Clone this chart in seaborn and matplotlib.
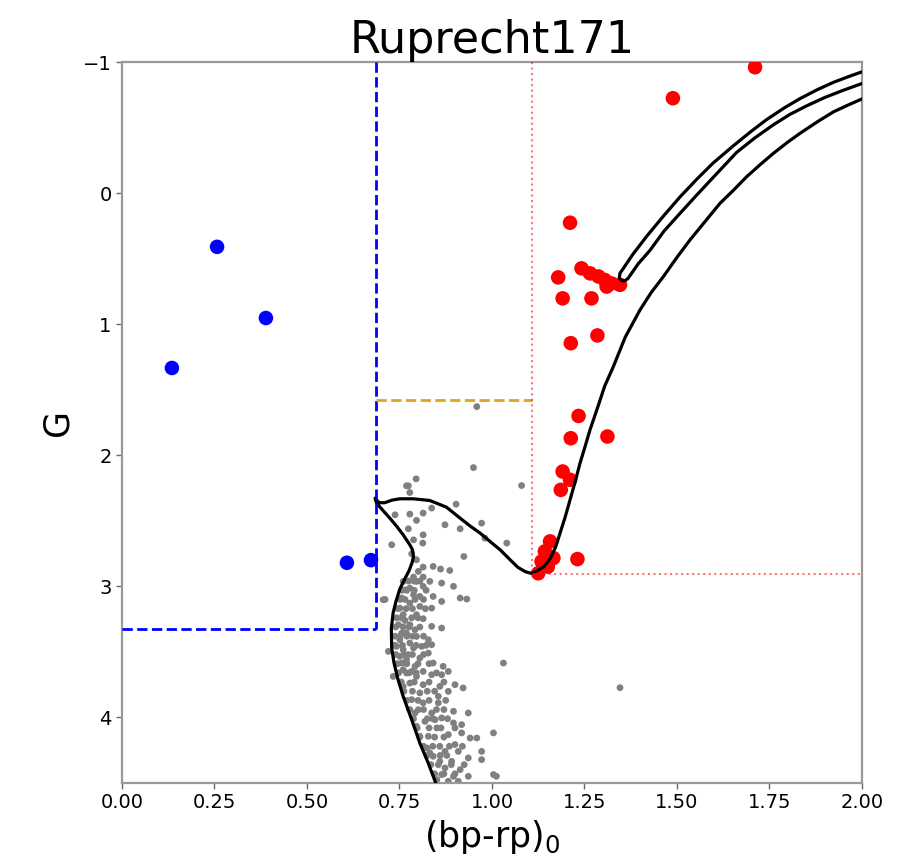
import numpy as np
import pandas as pd
import matplotlib
matplotlib.use("Agg")
import matplotlib.pyplot as plt
import seaborn as sns

sns.set_theme(style="ticks")
plt.rcParams["font.family"] = ["DejaVu Sans"]
plt.rcParams.update({"text.color": "black", "axes.labelcolor": "black",
                     "xtick.color": "black", "ytick.color": "black"})

TITLE = "Ruprecht171"

# ---- field / cluster members (grey) : (bp-rp)0, G ----
field_c = [
    0.959, 0.950, 0.795, 0.774, 1.080, 0.711, 0.914, 0.932,
    0.769, 0.778, 0.738, 0.778, 0.814, 0.796, 0.837, 0.903, 0.873, 0.774, 0.914,
    0.972, 0.814, 0.788, 0.813, 0.729, 0.981, 1.040, 0.924, 0.783, 0.796, 0.814,
    0.841, 0.861, 0.886, 0.801, 0.788, 0.814,
    0.706, 0.896, 0.864, 0.841, 0.864, 0.837, 0.805, 0.778, 0.814, 0.832,
    0.756, 0.778, 0.796, 0.760, 0.747, 0.778, 0.837, 0.864, 0.769, 0.796, 0.828,
    0.751, 0.720, 0.760, 0.788, 0.837, 0.828, 0.805, 0.769, 0.751, 0.841, 0.792,
    0.760, 0.868, 0.814, 1.031, 0.788, 0.760, 0.796, 0.765, 0.805, 0.751, 0.765,
    0.814, 0.792, 0.756, 0.778, 0.742, 0.810, 0.774, 0.756, 0.783,
    0.733, 0.769, 0.796, 0.837, 0.864, 0.882, 0.778, 0.814, 0.859, 0.900, 0.922,
    0.882, 0.805, 0.855, 0.783, 0.814, 0.855, 0.896, 0.936, 0.837, 0.801, 0.864,
    0.819, 0.896, 0.918, 0.796, 0.851, 0.882, 0.918, 0.941, 0.959, 1.004, 0.828,
    0.859, 0.900, 0.824, 0.873, 0.909, 0.972, 0.936, 0.972, 0.859, 0.891, 0.841,
    0.873, 0.914, 0.864, 0.896, 0.936, 1.004, 1.012, 0.851, 0.882, 0.909, 0.760,
    0.792, 0.805, 0.846, 0.832, 1.346,
    0.775, 0.790, 0.805,
    0.757, 0.770, 0.790, 0.822,
    0.752, 0.765, 0.792, 0.815,
    0.745, 0.768, 0.785, 0.820,
    0.742, 0.755, 0.783, 0.800,
    0.740, 0.760, 0.776, 0.805,
    0.738, 0.752, 0.770, 0.785, 0.815,
    0.738, 0.758, 0.795, 0.822,
    0.740, 0.762, 0.785, 0.815,
    0.745, 0.770, 0.800, 0.830,
    0.748, 0.776, 0.795, 0.850,
    0.755, 0.790, 0.830, 0.870,
    0.762, 0.785, 0.825, 0.845,
    0.770, 0.800, 0.830, 0.875,
    0.778, 0.815, 0.850, 0.870,
    0.788, 0.825, 0.840, 0.880,
    0.798, 0.830, 0.862, 0.900,
    0.805, 0.845, 0.870,
    0.815, 0.840, 0.885, 0.920,
    0.825, 0.860, 0.878,
    0.835, 0.855, 0.890, 0.925,
    0.845, 0.870, 0.900,
]
field_g = [
    1.629, 2.094, 2.180, 2.233, 2.231, 3.100, 3.089, 3.097,
    2.233, 2.284, 2.454, 2.449, 2.441, 2.497, 2.403, 2.373, 2.530, 2.561, 2.561,
    2.518, 2.607, 2.645, 2.670, 2.683, 2.632, 2.670, 2.772, 2.752, 2.797, 2.853,
    2.848, 2.868, 2.879, 2.886, 2.929, 2.929,
    3.102, 3.000, 2.975, 3.077, 3.115, 3.166, 3.153, 3.013, 3.000, 2.962,
    3.089, 3.128, 3.216, 3.216, 3.293, 3.293, 3.305, 3.318, 3.356, 3.382, 3.407,
    3.407, 3.496, 3.483, 3.470, 3.445, 3.509, 3.547, 3.559, 3.534, 3.585, 3.610,
    3.636, 3.610, 3.649, 3.585, 3.064, 2.962, 2.962, 3.026, 3.077, 3.166, 3.260,
    3.247, 3.331, 3.357, 3.432, 3.458, 3.458, 3.521, 3.585, 3.649,
    3.687, 3.661, 3.687, 3.674, 3.674, 3.649, 3.738, 3.750, 3.763, 3.750, 3.775,
    3.801, 3.813, 3.839, 3.864, 3.889, 3.889, 3.953, 3.966, 3.966, 3.941, 4.004,
    4.030, 4.042, 4.055, 4.068, 4.080, 4.131, 4.118, 4.157, 4.157, 4.118, 4.144,
    4.220, 4.207, 4.233, 4.259, 4.259, 4.259, 4.309, 4.322, 4.335, 4.335, 4.296,
    4.385, 4.398, 4.436, 4.449, 4.449, 4.436, 4.449, 4.475, 4.487, 4.487, 3.763,
    3.966, 4.144, 4.017, 4.271, 3.773,
    2.96, 2.96, 2.96,
    3.03, 3.03, 3.03, 3.03,
    3.10, 3.10, 3.10, 3.10,
    3.17, 3.17, 3.17, 3.17,
    3.24, 3.24, 3.24, 3.24,
    3.31, 3.31, 3.31, 3.31,
    3.38, 3.38, 3.38, 3.38, 3.38,
    3.45, 3.45, 3.45, 3.45,
    3.52, 3.52, 3.52, 3.52,
    3.59, 3.59, 3.59, 3.59,
    3.66, 3.66, 3.66, 3.66,
    3.73, 3.73, 3.73, 3.73,
    3.80, 3.80, 3.80, 3.80,
    3.87, 3.87, 3.87, 3.87,
    3.94, 3.94, 3.94, 3.94,
    4.01, 4.01, 4.01, 4.01,
    4.08, 4.08, 4.08, 4.08,
    4.15, 4.15, 4.15,
    4.22, 4.22, 4.22, 4.22,
    4.29, 4.29, 4.29,
    4.36, 4.36, 4.36, 4.36,
    4.43, 4.43, 4.43,
]

# ---- blue stragglers ----
bss_c = [0.257, 0.389, 0.135, 0.608, 0.673]
bss_g = [0.410, 0.953, 1.334, 2.820, 2.800]

# ---- red giants ----
rg_c = [1.711, 1.489, 1.211, 1.179, 1.242, 1.265, 1.288, 1.305, 1.323, 1.346,
        1.310, 1.191, 1.269, 1.285, 1.213, 1.234, 1.213, 1.312, 1.191, 1.211,
        1.186, 1.157, 1.143, 1.166, 1.134, 1.231, 1.125, 1.151]
rg_g = [-0.960, -0.724, 0.226, 0.643, 0.574, 0.612, 0.636, 0.663, 0.689, 0.700,
        0.713, 0.803, 0.803, 1.086, 1.145, 1.700, 1.870, 1.857, 2.124, 2.187,
        2.264, 2.657, 2.733, 2.784, 2.810, 2.792, 2.900, 2.850]

# ---- isochrone: main sequence -> turn-off -> subgiant -> red giant branch ----
iso_c = [0.848, 0.828, 0.805, 0.783, 0.760, 0.745, 0.735, 0.729, 0.728, 0.733,
         0.740, 0.751, 0.765, 0.776, 0.784, 0.788, 0.785, 0.778, 0.760, 0.742,
         0.724, 0.705, 0.688, 0.684, 0.695, 0.710, 0.730, 0.751, 0.787, 0.832,
         0.877, 0.914, 0.941, 0.968, 0.995, 1.022, 1.049, 1.070, 1.090, 1.105,
         1.122, 1.140, 1.157, 1.172, 1.184, 1.198, 1.211, 1.225, 1.238, 1.252,
         1.265, 1.285, 1.305, 1.328, 1.360, 1.400, 1.430, 1.463, 1.500, 1.535,
         1.575, 1.616, 1.652, 1.688, 1.724, 1.760, 1.800, 1.832, 1.880, 1.923,
         1.965, 2.003]
iso_g = [4.500, 4.350, 4.195, 4.017, 3.839, 3.700, 3.580, 3.470, 3.320, 3.200,
         3.120, 3.020, 2.940, 2.880, 2.820, 2.772, 2.720, 2.683, 2.607, 2.540,
         2.480, 2.420, 2.365, 2.327, 2.362, 2.362, 2.342, 2.332, 2.332, 2.345,
         2.396, 2.480, 2.540, 2.594, 2.658, 2.721, 2.797, 2.855, 2.888, 2.900,
         2.882, 2.850, 2.790, 2.700, 2.594, 2.470, 2.340, 2.200, 2.060, 1.930,
         1.806, 1.640, 1.470, 1.324, 1.100, 0.892, 0.760, 0.638, 0.490, 0.358,
         0.220, 0.079, -0.020, -0.124, -0.215, -0.302, -0.390, -0.455, -0.545, -0.620,
         -0.675, -0.722]

# ---- isochrone: asymptotic branch loop from the red clump ----
agb_c = [2.000, 1.965, 1.923, 1.880, 1.832, 1.790, 1.742, 1.700, 1.652, 1.598,
         1.555, 1.508, 1.465, 1.418, 1.380, 1.346, 1.344, 1.350, 1.360, 1.368,
         1.395, 1.427, 1.465, 1.508, 1.555, 1.598, 1.661, 1.710, 1.760, 1.805,
         1.850, 1.900, 1.950, 2.000]
agb_g = [-0.925, -0.890, -0.845, -0.790, -0.720, -0.650, -0.560, -0.470, -0.360, -0.230,
         -0.110, 0.030, 0.170, 0.330, 0.470, 0.612, 0.645, 0.668, 0.668, 0.650,
         0.540, 0.437, 0.290, 0.155, 0.010, -0.120, -0.310, -0.420, -0.520, -0.600,
         -0.665, -0.730, -0.785, -0.836]

# ---- selection boxes ----
bss_edge_c, bss_edge_g = 0.686, 3.323
bright_g = 1.578
red_edge_c, red_edge_g = 1.108, 2.904

x_ticks = [0.00, 0.25, 0.50, 0.75, 1.00, 1.25, 1.50, 1.75, 2.00]
y_ticks = [-1, 0, 1, 2, 3, 4]

fig = plt.figure(figsize=(9.13, 8.59), dpi=100)
ax = fig.add_axes([0.1336, 0.0885, 0.8105, 0.8393])

sns.scatterplot(x=field_c, y=field_g, color="grey", s=24, edgecolor="none",
                ax=ax, zorder=2)
sns.scatterplot(x=bss_c, y=bss_g, color="blue", s=110, edgecolor="none",
                ax=ax, zorder=3)
sns.scatterplot(x=rg_c, y=rg_g, color="red", s=110, edgecolor="none",
                ax=ax, zorder=3)

sns.lineplot(x=iso_c, y=iso_g, sort=False, estimator=None, color="black",
             lw=2.3, ax=ax, zorder=5)
sns.lineplot(x=agb_c, y=agb_g, sort=False, estimator=None, color="black",
             lw=2.3, ax=ax, zorder=5)

# blue-straggler region
ax.plot([bss_edge_c, bss_edge_c], [-1, bss_edge_g], color="blue", ls="--", lw=2, zorder=6)
ax.plot([0, bss_edge_c], [bss_edge_g, bss_edge_g], color="blue", ls="--", lw=2, zorder=6)
# bright limit between the boxes
ax.plot([bss_edge_c, red_edge_c], [bright_g, bright_g], color="goldenrod", ls="--", lw=2, zorder=6)
# red giant region
ax.plot([red_edge_c, red_edge_c], [-1, red_edge_g], color="red", alpha=0.55, ls=":", lw=1.5, zorder=6)
ax.plot([red_edge_c, 2.0], [red_edge_g, red_edge_g], color="red", alpha=0.55, ls=":", lw=1.5, zorder=6)

ax.set_xlim(0, 2.0)
ax.set_ylim(4.5, -1)
ax.set_xticks(x_ticks)
ax.set_xticklabels([f"{t:.2f}" for t in x_ticks])
ax.set_yticks(y_ticks)
ax.tick_params(labelsize=14, length=4, width=1, color="0.4")
for sp in ax.spines.values():
    sp.set_visible(True)
    sp.set_color("0.6")
    sp.set_linewidth(1.6)

ax.set_title(TITLE, fontsize=32, pad=6)
ax.set_xlabel("(bp-rp)$_0$", fontsize=25, labelpad=4)
ax.set_ylabel("G", fontsize=25, labelpad=6)

fig.savefig("out.png", dpi=100, facecolor="white")
